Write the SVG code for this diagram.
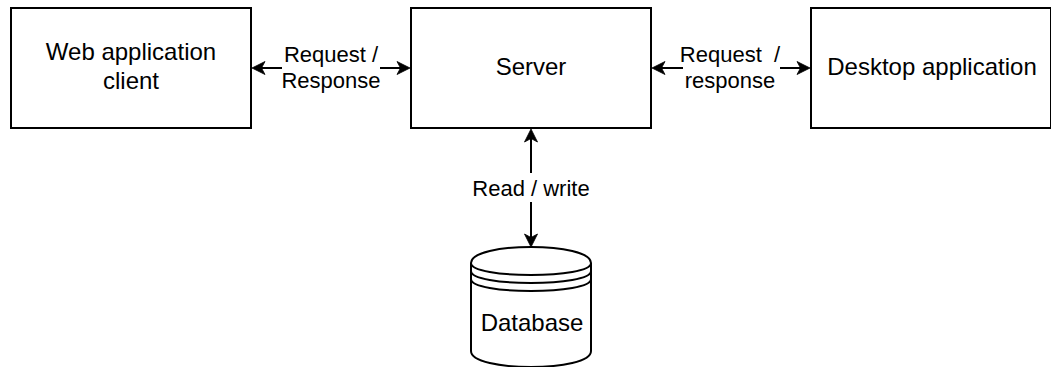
<svg xmlns="http://www.w3.org/2000/svg" width="1051" height="367" viewBox="0 0 1051 367">
  <style>
    .box { fill: #ffffff; stroke: #000000; stroke-width: 2; }
    .node-text { font-family: "Liberation Sans", Arial, Helvetica, sans-serif; font-size: 24px; fill: #000000; text-anchor: middle; }
    .edge-text { font-family: "Liberation Sans", Arial, Helvetica, sans-serif; font-size: 22px; fill: #000000; text-anchor: middle; white-space: pre; }
    .conn { fill: none; stroke: #000000; stroke-width: 2; marker-start: url(#arrow); marker-end: url(#arrow); }
    .label-bg { fill: #ffffff; stroke: none; }
  </style>
  <defs>
    <marker id="arrow" markerUnits="userSpaceOnUse" markerWidth="24" markerHeight="24" viewBox="-12 -12 24 24" refX="0" refY="0" orient="auto-start-reverse" overflow="visible">
      <path d="M8,0 L-5,-6.5 L-1.5,0 L-5,6.5 Z" fill="#000000" stroke="#000000" stroke-width="0.8" stroke-linejoin="miter"/>
    </marker>
  </defs>

  <rect width="1051" height="367" fill="#ffffff"/>

  <g id="connectors">
    <path class="conn" d="M260,68 L402,68"/>
    <path class="conn" d="M660,68 L802,68"/>
    <path class="conn" d="M531,137 L531,239"/>
    <g id="edge-labels">
      <rect class="label-bg" x="282" y="43" width="98" height="50"/>
      <text class="edge-text" x="331" y="61.7">Request /</text>
      <text class="edge-text" x="331" y="87.5">Response</text>
      <rect class="label-bg" x="683" y="43" width="97" height="50"/>
      <text class="edge-text" x="730" y="61.7">Request  /</text>
      <text class="edge-text" x="730" y="87.5">response</text>
      <rect class="label-bg" x="474" y="173" width="114" height="29"/>
      <text class="edge-text" x="531" y="195.5">Read / write</text>
    </g>
  </g>

  <g id="web-client">
    <rect class="box" x="11" y="8" width="240" height="120"/>
    <text class="node-text" x="131" y="59.8">Web application</text>
    <text class="node-text" x="131" y="88.6">client</text>
  </g>

  <g id="server">
    <rect class="box" x="411" y="8" width="240" height="120"/>
    <text class="node-text" x="531" y="74.7">Server</text>
  </g>

  <g id="desktop-app">
    <rect class="box" x="811" y="8" width="240" height="120"/>
    <text class="node-text" x="932" y="74.7">Desktop application</text>
  </g>

  <g id="database">
    <path class="box" d="M471,263 C471,241.67 591,241.67 591,263 L591,351 C591,372.33 471,372.33 471,351 Z"/>
    <path d="M471,263 C471,279 591,279 591,263 M471,271 C471,287 591,287 591,271 M471,279 C471,295 591,295 591,279" fill="none" stroke="#000000" stroke-width="2"/>
    <text class="node-text" x="532" y="330.7">Database</text>
  </g>
</svg>
